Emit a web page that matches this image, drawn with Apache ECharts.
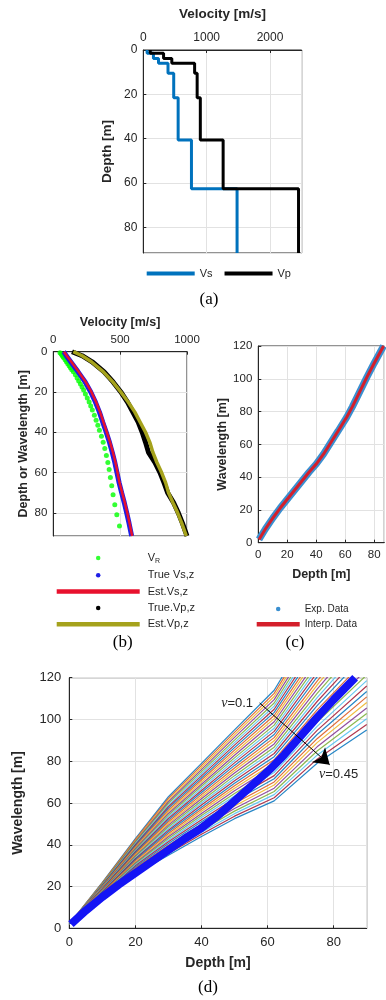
<!DOCTYPE html>
<html>
<head>
<meta charset="utf-8">
<script src="https://cdn.jsdelivr.net/npm/echarts@6/dist/echarts.min.js"></script>
<style>
  html, body { margin: 0; padding: 0; background: #fff; }
  #chart { width: 386px; height: 1000px; }
</style>
</head>
<body>
<div id="chart"></div>
<script>
// (a) layered model: layer tops [m] and velocities [m/s]
const layerTop = [0, 1.5, 3.8, 6, 10.5, 21.5, 40.6, 62.5];
const layerBottom = 91.5;
const vsLayers = [60, 160, 240, 390, 480, 550, 760, 1480];
const vpLayers = [110, 320, 450, 810, 850, 900, 1260, 2450];

// (b) velocity profiles vs depth
const depthB = [0, 2, 5, 10, 15, 20, 25, 30, 35, 40, 45, 50, 55, 60, 65, 70, 75, 80, 85, 91.5];
const trueVs = [78, 97, 130, 185, 238, 280, 315, 345, 370, 396, 420, 441, 460, 476, 492, 511, 531, 549, 566, 586];
const estVs  = [80, 100, 135, 190, 242, 285, 320, 350, 375, 400, 425, 446, 465, 480, 495, 515, 535, 553, 570, 590];
const trueVp = [140, 215, 290, 380, 447, 505, 555, 595, 635, 665, 690, 712, 760, 798, 828, 855, 900, 935, 965, 1000];
const estVp  = [150, 215, 285, 375, 445, 505, 560, 610, 650, 690, 722, 745, 775, 810, 840, 862, 895, 930, 960, 995];
const vrDepth = [0.5, 1, 1.5, 2, 2.5, 3, 4, 5, 6, 7, 8, 9, 10, 11.5, 13, 14.5, 16, 17.5, 19, 21, 23, 25, 27, 29,
                 31.5, 34, 36.5, 39, 42, 45, 48, 51.5, 55, 58.5, 62.5, 66.5, 71, 76, 81, 86.5];
const vrVel = [50, 58, 63, 68, 73, 78, 88, 98, 108, 118, 128, 138, 150, 165, 178, 190, 203, 215, 227, 240, 254, 268, 280, 292,
               307, 320, 333, 345, 360, 373, 385, 397, 408, 418, 427, 437, 447, 460, 475, 495];

// (c)/(d) experimental wavelength-depth data
const expDepth = [0.5, 5, 10, 15, 20, 25, 30, 35, 40, 45, 50, 55, 61, 65, 70, 75, 80, 86.5];
const expWl    = [2, 8.5, 15, 21, 26.5, 32, 37.5, 43, 48, 54, 61, 68, 76.5, 83, 92, 101, 109.5, 120];

// (d) one curve per Poisson ratio, nu = 0.10 ... 0.45
const nuDepth = [0, 10, 20, 30, 40, 50, 62, 75, 90];
const nuWl = [
  [2, 22.0, 43.0, 63.0, 79, 95.0, 114.0, 148.0, 187.0],
  [2, 21.8, 42.5, 62.2, 78, 93.8, 112.5, 146.0, 184.4],
  [2, 21.5, 42.0, 61.4, 77, 92.6, 111.0, 144.1, 181.7],
  [2, 21.3, 41.5, 60.6, 76, 91.4, 109.5, 142.1, 179.1],
  [2, 21.1, 41.1, 59.8, 75, 90.1, 107.9, 140.1, 176.5],
  [2, 20.9, 40.6, 59.0, 74, 88.9, 106.4, 138.1, 173.9],
  [2, 20.6, 40.1, 58.2, 73, 87.7, 104.9, 136.2, 171.2],
  [2, 20.4, 39.6, 57.4, 72, 86.5, 103.4, 134.2, 168.6],
  [2, 20.2, 39.1, 56.6, 71, 85.3, 101.9, 132.2, 166.0],
  [2, 19.9, 38.6, 55.8, 70, 84.1, 100.4, 130.3, 163.3],
  [2, 19.7, 38.1, 55.0, 69, 82.9, 98.9, 128.3, 160.7],
  [2, 19.5, 37.7, 54.2, 68, 81.6, 97.3, 126.3, 158.1],
  [2, 19.3, 37.2, 53.4, 67, 80.4, 95.8, 124.3, 155.5],
  [2, 19.0, 36.7, 52.6, 66, 79.2, 94.3, 122.4, 152.8],
  [2, 18.8, 36.2, 51.8, 65, 78.0, 92.8, 120.4, 150.2],
  [2, 18.6, 35.7, 51.0, 64, 76.8, 91.3, 118.4, 147.6],
  [2, 18.3, 35.2, 50.2, 63, 75.6, 89.8, 116.5, 144.9],
  [2, 18.1, 34.7, 49.4, 62, 74.4, 88.3, 114.5, 142.3],
  [2, 17.9, 34.3, 48.6, 61, 73.1, 86.7, 112.5, 139.7],
  [2, 17.7, 33.8, 47.8, 60, 71.9, 85.2, 110.5, 137.0],
  [2, 17.4, 33.3, 47.0, 59, 70.7, 83.7, 108.6, 134.4],
  [2, 17.2, 32.8, 46.2, 58, 69.5, 82.2, 106.6, 131.8],
  [2, 17.0, 32.3, 45.4, 57, 68.3, 80.7, 104.6, 129.2],
  [2, 16.7, 31.8, 44.6, 56, 67.1, 79.2, 102.7, 126.5],
  [2, 16.5, 31.3, 43.8, 55, 65.9, 77.7, 100.7, 123.9],
  [2, 16.3, 30.9, 43.0, 54, 64.6, 76.1, 98.7, 121.3],
  [2, 16.1, 30.4, 42.2, 53, 63.4, 74.6, 96.7, 118.6],
  [2, 15.8, 29.9, 41.4, 52, 62.2, 73.1, 94.8, 116.0],
  [2, 15.6, 29.4, 40.6, 51, 61.0, 71.6, 92.8, 113.4],
  [2, 15.4, 28.9, 39.8, 50, 59.8, 70.1, 90.8, 110.8],
  [2, 15.1, 28.4, 39.0, 49, 58.6, 68.6, 88.9, 108.1],
  [2, 14.9, 27.9, 38.2, 48, 57.4, 67.1, 86.9, 105.5],
  [2, 14.7, 27.5, 37.4, 47, 56.1, 65.5, 84.9, 102.9],
  [2, 14.5, 27.0, 36.6, 46, 54.9, 64.0, 82.9, 100.3],
  [2, 14.2, 26.5, 35.8, 45, 53.7, 62.5, 81.0, 97.6],
  [2, 14.0, 26.0, 35.0, 44, 52.5, 61.0, 79.0, 95.0]
];

const FONT = '"Liberation Sans", Arial, sans-serif';
const SERIF = '"Liberation Serif", "Times New Roman", serif';
const INK = '#262626';
const matlab = ['#0072BD', '#D95319', '#EDB120', '#7E2F8E', '#77AC30', '#4DBEEE', '#A2142F'];

const zip = (xs, ys) => xs.map((x, i) => [x, ys[i]]);

// staircase points of a layered profile: [velocity, depth]
function stairs(v) {
  const pts = [];
  v.forEach((val, i) => {
    const bottom = i + 1 < layerTop.length ? layerTop[i + 1] : layerBottom;
    pts.push([val, layerTop[i]], [val, bottom]);
  });
  return pts;
}

function axis(o) {
  return {
    type: 'value',
    gridIndex: o.grid,
    position: o.position,
    min: o.min, max: o.max, interval: o.interval,
    inverse: !!o.inverse,
    name: o.name,
    nameLocation: 'middle',
    nameGap: o.nameGap,
    nameTextStyle: { color: INK, fontWeight: 'bold', fontSize: o.nameSize, fontFamily: FONT },
    axisLine: { show: true, lineStyle: { color: INK, width: 1 } },
    axisTick: { show: true, inside: true, length: 3, lineStyle: { color: INK } },
    splitLine: { show: true, lineStyle: { color: '#e2e2e2', width: 1 } },
    axisLabel: { color: INK, fontSize: o.labelSize, fontFamily: FONT, margin: o.margin || 6,
                 showMaxLabel: o.showMax !== false, hideOverlap: false,
                 formatter: v => String(v) }
  };
}

const gridBox = { show: true, borderColor: INK, borderWidth: 1, backgroundColor: '#fff' };

const option = {
  animation: false,
  grid: [
    Object.assign({ left: 143.3, top: 50, width: 158.4, height: 203 }, gridBox),
    Object.assign({ left: 53.3, top: 351.7, width: 133.7, height: 184.3 }, gridBox),
    Object.assign({ left: 258.3, top: 346, width: 126, height: 196.7 }, gridBox),
    Object.assign({ left: 69.3, top: 677.7, width: 297.4, height: 250.6 }, gridBox)
  ],
  xAxis: [
    axis({ grid: 0, position: 'top', min: 0, max: 2500, interval: 1000, showMax: false,
           name: 'Velocity [m/s]', nameGap: 29, nameSize: 13.5, labelSize: 12 }),
    axis({ grid: 1, position: 'top', min: 0, max: 1000, interval: 500,
           name: 'Velocity [m/s]', nameGap: 23, nameSize: 12.5, labelSize: 11.5 }),
    axis({ grid: 2, position: 'bottom', min: 0, max: 87, interval: 20, showMax: false,
           name: 'Depth [m]', nameGap: 25, nameSize: 12.5, labelSize: 11.5 }),
    axis({ grid: 3, position: 'bottom', min: 0, max: 90, interval: 20, showMax: false,
           name: 'Depth [m]', nameGap: 28, nameSize: 14, labelSize: 13, margin: 8 })
  ],
  yAxis: [
    axis({ grid: 0, min: 0, max: layerBottom, interval: 20, inverse: true, showMax: false,
           name: 'Depth [m]', nameGap: 29, nameSize: 13.5, labelSize: 12 }),
    axis({ grid: 1, min: 0, max: 91.5, interval: 20, inverse: true, showMax: false,
           name: 'Depth or Wavelength [m]', nameGap: 23, nameSize: 12.5, labelSize: 11.5 }),
    axis({ grid: 2, min: 0, max: 120, interval: 20,
           name: 'Wavelength [m]', nameGap: 21, nameSize: 12.5, labelSize: 11.5 }),
    axis({ grid: 3, min: 0, max: 120, interval: 20,
           name: 'Wavelength [m]', nameGap: 44, nameSize: 14, labelSize: 13, margin: 8 })
  ],
  legend: [
    {
      selectedMode: false, left: 141.7, top: 263, orient: 'horizontal',
      itemWidth: 48, itemHeight: 4, itemGap: 12, icon: 'rect',
      textStyle: { fontSize: 11, color: INK, fontFamily: FONT },
      data: ['Vs', 'Vp']
    },
    {
      selectedMode: false, left: 51.7, top: 546, orient: 'vertical',
      itemWidth: 83, itemHeight: 4.5, itemGap: 4.3,
      formatter: name => name === 'VR' ? '{v|V}{s|R}' : name,
      textStyle: {
        fontSize: 11, lineHeight: 12, color: INK, fontFamily: FONT, padding: [0, 0, 0, 3],
        rich: {
          v: { fontSize: 11, lineHeight: 12, fontFamily: FONT, color: INK },
          s: { fontSize: 7, lineHeight: 12, fontFamily: FONT, color: INK, padding: [7, 0, 0, 0] }
        }
      },
      data: [
        { name: 'VR', icon: 'circle' },
        { name: 'True Vs,z', icon: 'circle' },
        { name: 'Est.Vs,z', icon: 'rect' },
        { name: 'True.Vp,z', icon: 'circle' },
        { name: 'Est.Vp,z', icon: 'rect' }
      ]
    },
    {
      selectedMode: false, left: 251.7, top: 598.5, orient: 'vertical',
      itemWidth: 43, itemHeight: 4.5, itemGap: 4.3,
      textStyle: { fontSize: 10, lineHeight: 11, color: INK, fontFamily: FONT },
      data: [
        { name: 'Exp. Data', icon: 'circle' },
        { name: 'Interp. Data', icon: 'rect' }
      ]
    }
  ],
  graphic: [
    { type: 'text', x: 209, y: 300, style: { text: '(a)', font: '17px ' + SERIF, fill: '#000', align: 'center', verticalAlign: 'middle' } },
    { type: 'text', x: 122.7, y: 643, style: { text: '(b)', font: '17px ' + SERIF, fill: '#000', align: 'center', verticalAlign: 'middle' } },
    { type: 'text', x: 295, y: 643, style: { text: '(c)', font: '17px ' + SERIF, fill: '#000', align: 'center', verticalAlign: 'middle' } },
    { type: 'text', x: 208, y: 987.7, style: { text: '(d)', font: '17px ' + SERIF, fill: '#000', align: 'center', verticalAlign: 'middle' } }
  ],
  series: []
};

// (a)
option.series.push(
  { type: 'line', name: 'Vs', xAxisIndex: 0, yAxisIndex: 0, data: stairs(vsLayers), showSymbol: false,
    color: '#0072BD', lineStyle: { width: 3, color: '#0072BD' } },
  { type: 'line', name: 'Vp', xAxisIndex: 0, yAxisIndex: 0, data: stairs(vpLayers), showSymbol: false,
    color: '#000', lineStyle: { width: 3, color: '#000' } }
);

// (b)
option.series.push(
  { type: 'scatter', name: 'VR', xAxisIndex: 1, yAxisIndex: 1, data: zip(vrVel, vrDepth),
    symbol: 'circle', symbolSize: 5, color: '#00ff00', itemStyle: { color: '#00ff00' } },
  { type: 'line', name: 'True Vs,z', xAxisIndex: 1, yAxisIndex: 1, data: zip(trueVs, depthB), showSymbol: false,
    color: '#1e1ee6', lineStyle: { width: 5, color: '#1e1ee6' } },
  { type: 'line', name: 'Est.Vs,z', xAxisIndex: 1, yAxisIndex: 1, data: zip(estVs, depthB), showSymbol: false,
    color: '#e8112d', lineStyle: { width: 2.5, color: '#e8112d' } },
  { type: 'line', name: 'True.Vp,z', xAxisIndex: 1, yAxisIndex: 1, data: zip(trueVp, depthB), showSymbol: false,
    color: '#000', lineStyle: { width: 5, color: '#000' } },
  { type: 'line', name: 'Est.Vp,z', xAxisIndex: 1, yAxisIndex: 1, data: zip(estVp, depthB), showSymbol: false,
    color: '#a5a21c', lineStyle: { width: 3.5, color: '#a5a21c' } }
);

// (c)
option.series.push(
  { type: 'line', name: 'Exp. Data', xAxisIndex: 2, yAxisIndex: 2, data: zip(expDepth, expWl), showSymbol: false,
    color: '#3a8fd0', lineStyle: { width: 7, color: '#3a8fd0' } },
  { type: 'line', name: 'Interp. Data', xAxisIndex: 2, yAxisIndex: 2, data: zip(expDepth, expWl), showSymbol: false,
    color: '#d41f2b', lineStyle: { width: 3, color: '#d41f2b' } }
);

// (d) family of curves
nuWl.forEach((row, i) => {
  option.series.push({
    type: 'line', name: 'nu' + i, xAxisIndex: 3, yAxisIndex: 3, data: zip(nuDepth, row),
    showSymbol: false, silent: true,
    lineStyle: { width: 1.2, color: matlab[i % matlab.length], opacity: 0.85 }
  });
});

// (d) experimental data with annotation
option.series.push({
  type: 'line', name: 'expD', xAxisIndex: 3, yAxisIndex: 3, data: zip(expDepth, expWl), showSymbol: false,
  color: '#1414f5', lineStyle: { width: 8, color: '#1414f5' },
  markLine: {
    silent: true, symbol: ['none', 'arrow'], symbolSize: 15,
    lineStyle: { color: '#000', width: 1, type: 'solid' }, label: { show: false },
    data: [[{ coord: [57.6, 107.9] }, { coord: [78.8, 78.3] }]]
  },
  markPoint: {
    silent: true, symbol: 'circle', symbolSize: 0,
    label: {
      show: true, position: 'inside', color: INK, fontSize: 13, fontFamily: FONT,
      rich: { n: { fontStyle: 'italic', fontFamily: SERIF, fontSize: 14, color: INK } }
    },
    data: [
      { coord: [50.8, 107.9], label: { formatter: '{n|ν}=0.1' } },
      { coord: [81.5, 73.5], label: { formatter: '{n|ν}=0.45' } }
    ]
  }
});

const chart = echarts.init(document.getElementById('chart'), null, { renderer: 'canvas' });
chart.setOption(option);
</script>
</body>
</html>
